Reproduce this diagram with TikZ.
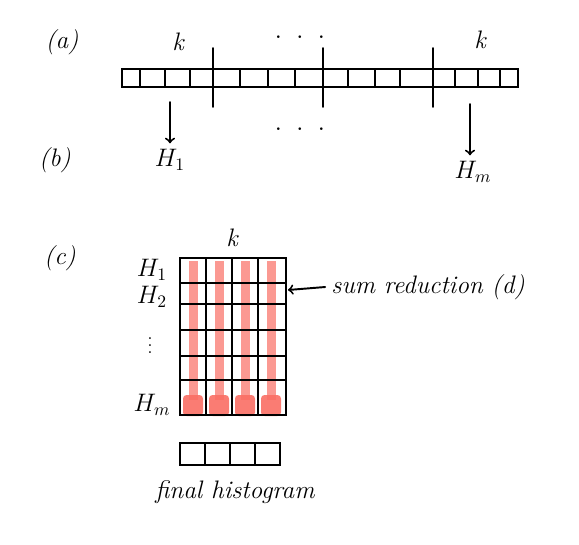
\documentclass[tikz,border=0pt]{standalone}
\usetikzlibrary{positioning}
\definecolor{penred}{RGB}{250,110,100}
\tikzset{
  pen/.style={line width=1.1pt, black, line cap=round},
  lbl/.style={font=\Large\itshape},
  hlbl/.style={font=\Large},
  stripe/.style={fill=penred, opacity=0.7, draw=none},
  blob/.style={fill=penred, opacity=0.9, draw=none, rounded corners=2pt}
}
\begin{document}
\begin{tikzpicture}[x=0.02cm, y=-0.02cm]
	\useasboundingbox (0,0) rectangle (579,545);

	%Part labels
	\node[lbl] (parta) at (62,42) {(a)};
	\node[lbl] (partb) at (55,160) {(b)};
	\node[lbl] (partc) at (60,258) {(c)};

	%Input strip, four blocks of k cells
	\draw[pen] (122,69) rectangle (518,87);
	\foreach \x in {140,165,190,240,268,295,348,375,400,455,478,500}
		\draw[pen] (\x,69) -- (\x,87);
	\foreach \x in {213,323,433}
		\draw[pen] (\x,48) -- (\x,107);
	\node[lbl] (kone) at (178,42) {k};
	\node[lbl] (ktwo) at (480,40) {k};
	\node[lbl] (dotsa) at (300,38) {$\cdot\ \cdot\ \cdot$};

	%Local histograms
	\node[hlbl] (Hone) at (170,160) {$H_1$};
	\node[hlbl] (Hm) at (473,172) {$H_m$};
	\coordinate (aone) at (170,102);
	\coordinate (am) at (470,104);
	\draw[pen,->] (aone) -- (aone |- Hone.north);
	\draw[pen,->] (am) -- (am |- Hm.north);
	\node[lbl] (dotsb) at (300,130) {$\cdot\ \cdot\ \cdot$};

	%Red column sums
	\foreach \x in {193,219,245,271} {
		\fill[stripe] (\x-4.5,261) rectangle (\x+4.5,400);
		\fill[blob] (\x-10,395) rectangle (\x+10,416);
	}

	%Histogram matrix
	\draw[pen] (180,258) rectangle (286,415);
	\foreach \x in {206,232,258}
		\draw[pen] (\x,258) -- (\x,415);
	\foreach \y in {283,304,330,356,380}
		\draw[pen] (180,\y) -- (286,\y);
	\node[lbl] (kc) at (232,238) {k};
	\node[hlbl] (rone) at (152,270) {$H_1$};
	\node[hlbl] (rtwo) at (152,297) {$H_2$};
	\node (rdots) at (150,340) {$\vdots$};
	\node[hlbl] (rm) at (152,405) {$H_m$};

	%Sum reduction
	\node[font=\Large\itshape] (sumred) at (428,287) {sum reduction (d)};
	\coordinate (gridR) at (288,290);
	\draw[pen,->] (sumred.west) -- (gridR);

	%Final histogram
	\draw[pen] (180,443) rectangle (280,465);
	\foreach \x in {205,230,255}
		\draw[pen] (\x,443) -- (\x,465);
	\node[font=\Large\itshape] (final) at (235,492) {final histogram};

\end{tikzpicture}
\end{document}
